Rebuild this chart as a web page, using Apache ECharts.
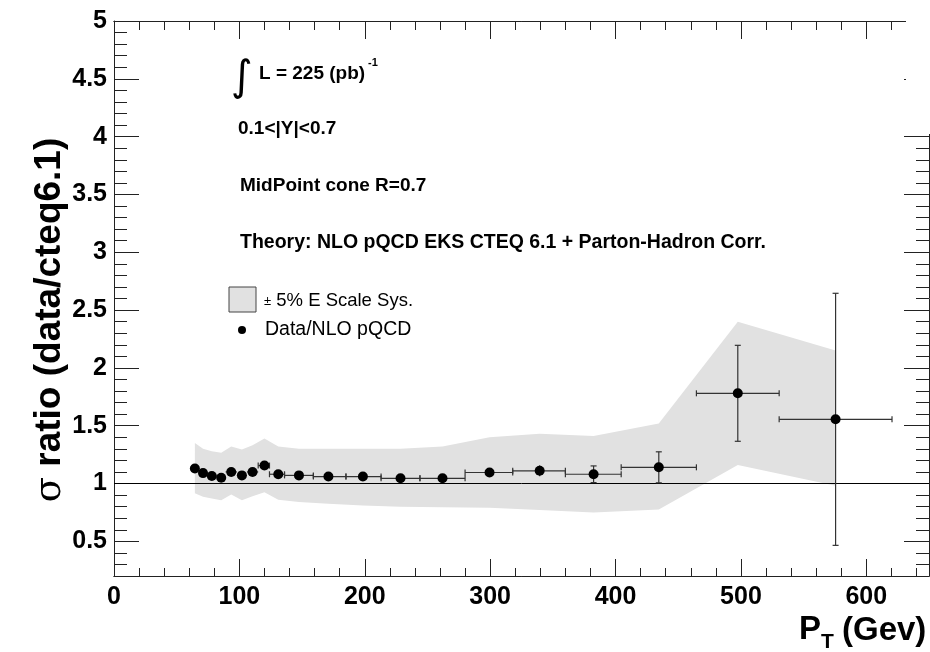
<!DOCTYPE html>
<html><head><meta charset="utf-8">
<script src="https://cdn.jsdelivr.net/npm/echarts@6/dist/echarts.min.js"></script>
<style>html,body{margin:0;padding:0;background:#fff}#c{width:930px;height:652px}</style>
</head><body><div id="c"></div>
<script>
// ---- data ----
const ptX      = [64.5, 71, 78, 85.5, 93.5, 102, 110.5, 120, 131, 147.5, 171, 198.5, 228.5, 262, 299.5, 339.5, 382.5, 434.5, 497.5, 575.5];
const ratio    = [1.13, 1.09, 1.065, 1.05, 1.10, 1.07, 1.10, 1.155, 1.08, 1.07, 1.06, 1.06, 1.045, 1.045, 1.095, 1.11, 1.08, 1.14, 1.78, 1.555];
const ratioErr = [0.008, 0.008, 0.008, 0.008, 0.008, 0.008, 0.01, 0.012, 0.012, 0.012, 0.012, 0.012, 0.012, 0.015, 0.02, 0.047, 0.072, 0.134, 0.415, 1.09];
const binLo    = [61, 68, 75, 82, 89, 98, 106, 115, 124, 136, 159, 185, 213, 244, 280, 318, 360, 404.5, 464.5, 530.5];
const binHi    = [68, 75, 82, 89, 98, 106, 115, 124, 136, 159, 185, 213, 244, 280, 318, 360, 404.5, 464.5, 530.5, 620.5];
const bandX    = [64.5, 71, 78, 85.5, 93.5, 102, 110.5, 120, 131, 147.5, 171, 198.5, 228.5, 262, 299.5, 339.5, 382.5, 434.5, 497.5, 575.5];
const bandHi   = [1.35, 1.30, 1.28, 1.265, 1.32, 1.295, 1.33, 1.39, 1.32, 1.30, 1.30, 1.30, 1.30, 1.32, 1.40, 1.43, 1.41, 1.52, 2.40, 2.15];
const bandLo   = [0.915, 0.885, 0.87, 0.855, 0.905, 0.856, 0.89, 0.925, 0.86, 0.84, 0.825, 0.81, 0.80, 0.795, 0.79, 0.77, 0.75, 0.775, 1.16, 0.98];
const unityLine = [[0, 1], [650, 1]];
const yTickLabels = [0.5, 1, 1.5, 2, 2.5, 3, 3.5, 4, 4.5, 5];

const FONT = '"Liberation Sans", Arial, Helvetica, sans-serif';
const AX = '#222';
const chart = echarts.init(document.getElementById('c'), null, {renderer: 'canvas'});

function xAx(pos, interval, len, labels) {
  return {
    type: 'value', min: 0, max: 650, interval: interval, position: pos,
    axisLine: {show: true, onZero: false, lineStyle: {color: AX, width: 1}},
    axisTick: {show: true, inside: true, length: len, lineStyle: {color: AX, width: 1}},
    axisLabel: labels ? {show: true, showMaxLabel: false, margin: 9, fontSize: 25, fontWeight: 'bold', color: '#000', fontFamily: FONT} : {show: false},
    splitLine: {show: false}
  };
}
function yMajor(pos, labels) {
  return {
    type: 'value', min: 0.2, max: 5, position: pos,
    axisLine: {show: true, onZero: false, lineStyle: {color: AX, width: 1}},
    axisTick: {show: true, inside: true, length: 25, customValues: yTickLabels, lineStyle: {color: AX, width: 1}},
    axisLabel: labels ? {show: true, customValues: yTickLabels, margin: 7, fontSize: 25, fontWeight: 'bold', color: '#000', fontFamily: FONT} : {show: false},
    splitLine: {show: false}
  };
}
function yMinor(pos) {
  return {
    type: 'value', min: 0.2, max: 5, interval: 0.1, position: pos,
    axisLine: {show: false, onZero: false},
    axisTick: {show: true, inside: true, length: 13, lineStyle: {color: AX, width: 1}},
    axisLabel: {show: false},
    splitLine: {show: false}
  };
}

const option = {
  backgroundColor: '#fff',
  animation: false,
  grid: {left: 114, right: 1, top: 21, bottom: 76, containLabel: false, outerBoundsMode: 'none'},
  xAxis: [xAx('bottom', 100, 17, true), xAx('bottom', 20, 8, false), xAx('top', 100, 18, false), xAx('top', 20, 9, false)],
  yAxis: [yMajor('left', true), yMinor('left'), yMajor('right', false), yMinor('right')],
  series: [
    {
      type: 'custom', name: 'band', clip: true, z: 1,
      data: [[bandX[0], bandHi[0]]],
      renderItem: function (params, api) {
        if (params.dataIndex !== 0) return;
        const pts = [];
        for (let i = 0; i < bandX.length; i++) pts.push(api.coord([bandX[i], bandHi[i]]));
        for (let i = bandX.length - 1; i >= 0; i--) pts.push(api.coord([bandX[i], bandLo[i]]));
        return {type: 'polygon', shape: {points: pts}, style: {fill: '#e1e1e1', stroke: null}};
      }
    },
    {
      type: 'line', name: 'unity', data: unityLine, symbol: 'none', z: 2,
      lineStyle: {color: '#000', width: 1}
    },
    {
      type: 'custom', name: 'errors', z: 3, clip: true,
      encode: {x: 0, y: 1},
      data: ptX.map((x, i) => [x, ratio[i], ratioErr[i], binLo[i], binHi[i]]),
      renderItem: function (params, api) {
        const x = api.value(0), y = api.value(1), e = api.value(2), lo = api.value(3), hi = api.value(4);
        const c = api.coord([x, y]);
        const t = api.coord([x, y + e]);
        const b = api.coord([x, y - e]);
        const l = api.coord([lo, y]);
        const r = api.coord([hi, y]);
        const st = {stroke: '#333', lineWidth: 1.2};
        const ch = [
          {type: 'line', shape: {x1: l[0], y1: c[1], x2: r[0], y2: c[1]}, style: st},
          {type: 'line', shape: {x1: c[0], y1: t[1], x2: c[0], y2: b[1]}, style: st}
        ];
        const cap = 3;
        if (c[1] - t[1] > 6) {
          ch.push({type: 'line', shape: {x1: c[0] - cap, y1: t[1], x2: c[0] + cap, y2: t[1]}, style: st});
          ch.push({type: 'line', shape: {x1: c[0] - cap, y1: b[1], x2: c[0] + cap, y2: b[1]}, style: st});
        }
        if (c[0] - l[0] > 6) {
          ch.push({type: 'line', shape: {x1: l[0], y1: c[1] - cap, x2: l[0], y2: c[1] + cap}, style: st});
          ch.push({type: 'line', shape: {x1: r[0], y1: c[1] - cap, x2: r[0], y2: c[1] + cap}, style: st});
        }
        return {type: 'group', children: ch};
      }
    },
    {
      type: 'scatter', name: 'Data/NLO pQCD', z: 4,
      data: ptX.map((x, i) => [x, ratio[i]]),
      symbol: 'circle', symbolSize: 10,
      itemStyle: {color: '#000', opacity: 1, borderWidth: 0}
    }
  ],
  graphic: [
    {type: 'rect', z: 100, shape: {x: 906, y: 0, width: 24, height: 134}, style: {fill: '#fff'}},
    {type: 'text', x: 231, y: 79, style: {text: '∫', fontSize: 42, fontFamily: '"DejaVu Sans"', fill: '#000', verticalAlign: 'middle'}},
    {type: 'text', x: 259, y: 74, style: {text: 'L = 225 (pb)', fontSize: 19, fontWeight: 'bold', fontFamily: FONT, fill: '#000', verticalAlign: 'middle'}},
    {type: 'text', x: 368, y: 63, style: {text: '-1', fontSize: 11, fontWeight: 'bold', fontFamily: FONT, fill: '#000', verticalAlign: 'middle'}},
    {type: 'text', x: 238, y: 129, style: {text: '0.1<|Y|<0.7', fontSize: 19, fontWeight: 'bold', fontFamily: FONT, fill: '#000', verticalAlign: 'middle'}},
    {type: 'text', x: 240, y: 186, style: {text: 'MidPoint cone R=0.7', fontSize: 19, fontWeight: 'bold', fontFamily: FONT, fill: '#000', verticalAlign: 'middle'}},
    {type: 'text', x: 240, y: 243, style: {text: 'Theory: NLO pQCD EKS CTEQ 6.1 + Parton-Hadron Corr.', fontSize: 19.5, fontWeight: 'bold', fontFamily: FONT, fill: '#000', verticalAlign: 'middle'}},
    {type: 'rect', shape: {x: 229, y: 287, width: 27, height: 25}, style: {fill: '#e1e1e1', stroke: '#444', lineWidth: 1}},
    {type: 'text', x: 264, y: 301, style: {text: '{s|±} 5% E Scale Sys.', rich: {s: {fontSize: 13, fontFamily: FONT, fill: '#000'}}, fontSize: 18.5, fontFamily: FONT, fill: '#000', verticalAlign: 'middle'}},
    {type: 'circle', shape: {cx: 242, cy: 330, r: 4}, style: {fill: '#000'}},
    {type: 'text', x: 265, y: 330, style: {text: 'Data/NLO pQCD', fontSize: 19.5, fontFamily: FONT, fill: '#000', verticalAlign: 'middle'}},
    {type: 'text', x: 50, y: 320, rotation: Math.PI / 2, style: {text: '{s|σ} ratio (data/cteq6.1)', rich: {s: {fontSize: 37, fontFamily: '"DejaVu Serif", serif', fill: '#000'}}, fontSize: 37, fontWeight: 'bold', fontFamily: FONT, fill: '#000', align: 'center', verticalAlign: 'middle'}},
    {type: 'text', x: 799, y: 630, style: {text: 'P', fontSize: 33, fontWeight: 'bold', fontFamily: FONT, fill: '#000', verticalAlign: 'middle'}},
    {type: 'text', x: 821, y: 642, style: {text: 'T', fontSize: 21, fontWeight: 'bold', fontFamily: FONT, fill: '#000', verticalAlign: 'middle'}},
    {type: 'text', x: 842, y: 631, style: {text: '(Gev)', fontSize: 33, fontWeight: 'bold', fontFamily: FONT, fill: '#000', verticalAlign: 'middle'}}
  ]
};
chart.setOption(option);
</script>
</body></html>
